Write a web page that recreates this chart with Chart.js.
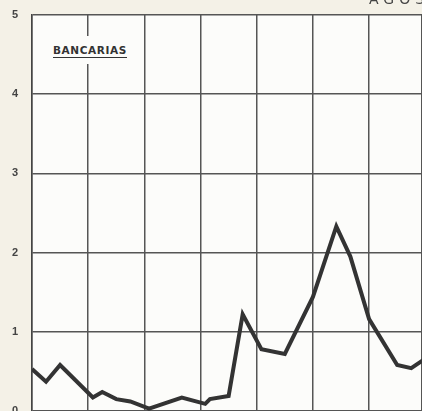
<!DOCTYPE html>
<html lang="es">
<head>
  <meta charset="UTF-8" />
  <title>Bancarias</title>
  <style>
    body {
      margin: 0;
      width: 422px;
      height: 411px;
      overflow: hidden;
      background: #f4f1e7;
      font-family: 'DejaVu Sans', sans-serif;
      position: relative;
    }
    #wrap { position: absolute; left: 0; top: 0; }
    .series-label {
      position: absolute;
      left: 49px;
      top: 36px;
      padding: 8px 4px 8px 4px;
      background: #fcfcfa;
      font-size: 10.5px;
      font-weight: bold;
      letter-spacing: 0.6px;
      color: #333;
    }
    .series-label span {
      border-bottom: 1.5px solid #333;
      padding-bottom: 1px;
    }
    .top-title {
      position: absolute;
      left: 369px;
      top: -9px;
      font-size: 14px;
      letter-spacing: 5px;
      color: #444;
    }
  </style>
</head>
<body>
  <div id="wrap"><canvas id="chart" width="422" height="411"></canvas></div>
  <div class="series-label"><span>BANCARIAS</span></div>
  <div class="top-title">AGOSTO</div>

  <script src="https://cdn.jsdelivr.net/npm/chart.js"></script>
  <script>
    // months from start of record (grid = 12 months)
    const months = [0, 3, 6, 13, 15, 18, 21, 25, 32, 37, 38, 42, 45, 49, 54, 60, 65, 68, 72, 78, 81, 84];
    const bancarias = [0.53, 0.37, 0.58, 0.17, 0.24, 0.15, 0.12, 0.03, 0.17, 0.09, 0.15, 0.19, 1.22, 0.78, 0.72, 1.44, 2.33, 1.95, 1.16, 0.58, 0.54, 0.66];
    const yTicks = [0, 1, 2, 3, 4, 5];

    const points = months.map((m, i) => ({ x: m, y: bancarias[i] }));

    const paperBg = {
      id: 'paperBg',
      beforeDraw(chart) {
        const { ctx, chartArea: a } = chart;
        ctx.save();
        ctx.fillStyle = '#fcfcfa';
        ctx.fillRect(a.left, a.top, a.right - a.left, a.bottom - a.top);
        ctx.restore();
      }
    };

    new Chart(document.getElementById('chart'), {
      type: 'line',
      data: {
        datasets: [{
          data: points,
          borderColor: '#333',
          borderWidth: 4,
          pointRadius: 0,
          tension: 0,
          fill: false
        }]
      },
      options: {
        responsive: false,
        animation: false,
        layout: { padding: { top: 15, right: 0, bottom: 0, left: 0 } },
        plugins: { legend: { display: false }, tooltip: { enabled: false } },
        scales: {
          x: {
            type: 'linear',
            min: 0,
            max: 83.3,
            ticks: { display: false, stepSize: 12 },
            grid: { color: '#555', lineWidth: 1.5, drawTicks: false },
            border: { display: false },
            afterFit: s => { s.height = 0; s.paddingLeft = 0; s.paddingRight = 0; }
          },
          y: {
            min: 0,
            max: 5,
            afterBuildTicks: s => { s.ticks = yTicks.map(v => ({ value: v })); },
            ticks: { color: '#444', font: { size: 11, weight: 'bold' }, padding: 14 },
            grid: { color: '#555', lineWidth: 1.5, drawTicks: false },
            border: { color: '#444', width: 1.5 },
            afterFit: s => { s.width = 32; s.paddingTop = 0; s.paddingBottom = 0; }
          }
        }
      },
      plugins: [paperBg]
    });
  </script>
</body>
</html>
